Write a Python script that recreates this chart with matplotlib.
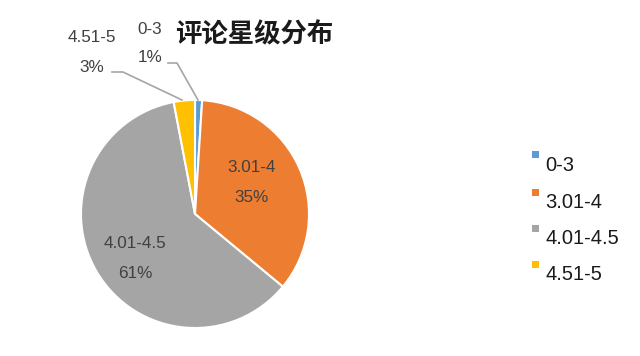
import matplotlib
matplotlib.use("Agg")
import matplotlib.pyplot as plt
from matplotlib.patches import Rectangle

plt.rcParams['font.family'] = ['Liberation Sans', 'Noto Sans CJK SC', 'DejaVu Sans']

categories = ['0-3', '3.01-4', '4.01-4.5', '4.51-5']
values = [1, 35, 61, 3]
pct_labels = ['1%', '35%', '61%', '3%']
colors = ['#5B9BD5', '#ED7D31', '#A5A5A5', '#FFC000']
title = '评论星级分布'

W, H = 640, 356
fig = plt.figure(figsize=(W / 100, H / 100), dpi=100)
fig.patch.set_facecolor('white')

cx, cy, R = 195, 214, 114
ax = fig.add_axes([(cx - R) / W, (H - cy - R) / H, 2 * R / W, 2 * R / H])
ax.pie(values, colors=colors, startangle=90, counterclock=False,
       wedgeprops=dict(edgecolor='white', linewidth=1.5), radius=1)
ax.set_xlim(-1, 1)
ax.set_ylim(-1, 1)
ax.axis('off')

def px(x, y):
    return ((x - cx) / R, (cy - y) / R)

txt_col = '#404040'
fs = 12.3
# inside labels
for i, (lx, ly1, ly2) in {1: (252, 168, 197), 2: (135, 244, 273)}.items():
    ax.text(*px(lx, ly1), categories[i], ha='center', va='center', fontsize=fs, color=txt_col)
    ax.text(*px(lx, ly2), pct_labels[i], ha='center', va='center', fontsize=fs, color=txt_col)

# outside labels
for i, (lx, ly1, ly2) in {0: (150, 30, 58), 3: (92, 38, 68)}.items():
    ax.text(*px(lx, ly1), categories[i], ha='center', va='center', fontsize=fs, color=txt_col, clip_on=False)
    ax.text(*px(lx, ly2), pct_labels[i], ha='center', va='center', fontsize=fs, color=txt_col, clip_on=False)

# leader lines
lines = {0: [(168, 63), (177, 63), (198, 100)], 3: [(112, 72), (123, 72), (182, 100)]}
for i, pts in lines.items():
    xs, ys = zip(*[px(a, b) for a, b in pts])
    ax.plot(xs, ys, color='#A5A5A5', lw=1.2, clip_on=False)

# title
fig.text(254 / W, 1 - 35 / H, title, ha='center', va='center', fontsize=19,
         fontweight='bold', color='#1a1a1a', family=['Noto Sans CJK SC', 'DejaVu Sans'])

# legend
leg_y = [165, 203, 239, 275]
for c, col, y in zip(categories, colors, leg_y):
    fig.patches.append(Rectangle((532 / W, 1 - (y - 7) / H), 7 / W, 7 / H,
                                 transform=fig.transFigure, facecolor=col, edgecolor='none'))
    fig.text(545 / W, 1 - y / H, c, ha='left', va='center', fontsize=14.5, color='#1a1a1a')

fig.savefig('out.png', dpi=100)
